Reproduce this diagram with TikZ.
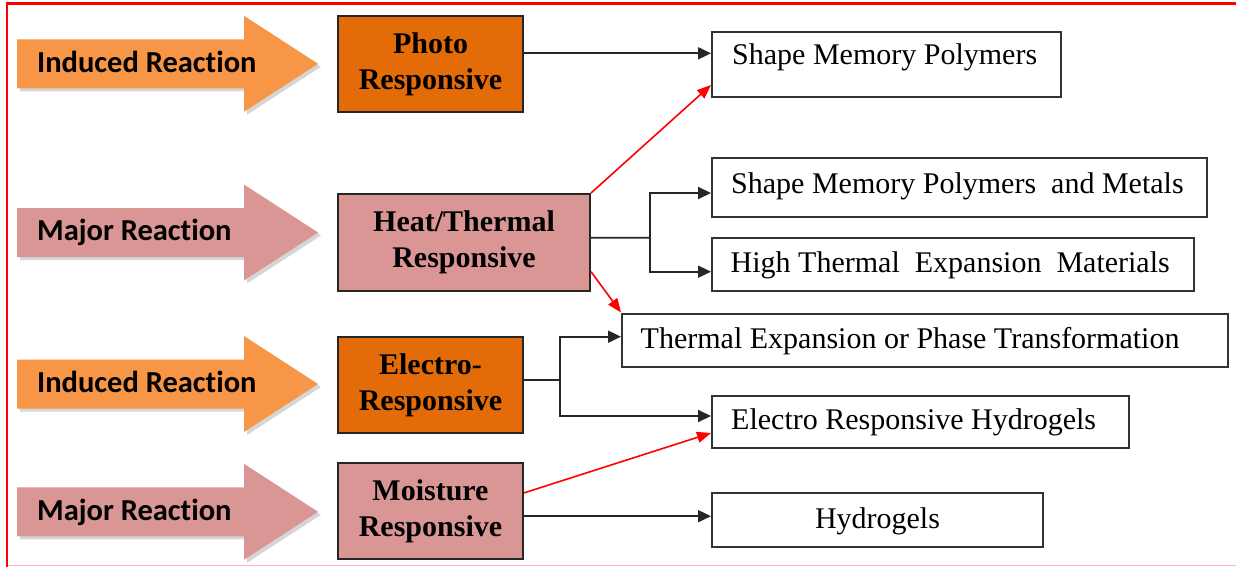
\documentclass[tikz,border=0pt]{standalone}
\usepackage{fontspec}
\setmainfont{Liberation Serif}
\newfontfamily\calfont{Carlito}[Ligatures=CommonOff]
\usetikzlibrary{arrows.meta}
\definecolor{arrOrange}{HTML}{F79646}
\definecolor{boxOrange}{HTML}{E36C09}
\definecolor{boxPink}{HTML}{D99694}
\definecolor{framePink}{HTML}{FFB3B3}
\tikzset{
  lbox/.style={draw=black!85, line width=2pt, inner sep=0pt, minimum width=185pt, minimum height=96pt, align=center, font=\fontsize{30}{36}\selectfont\bfseries},
  rbox/.style={draw=black!80, line width=2pt, inner sep=0pt},
  rtext/.style={anchor=base west, inner sep=0pt, font=\fontsize{30}{36}\selectfont},
  atext/.style={anchor=base west, inner sep=0pt, font=\calfont\fontsize{30.5}{34}\selectfont\bfseries},
  conn/.style={draw=black!85, line width=1.9pt},
  arr/.style={conn, -{Triangle[length=13pt,width=12pt]}},
  redarr/.style={draw=red, line width=1.6pt, -{Triangle[length=14pt,width=11pt]}},
  arrshadow/.style={fill=black!40, opacity=.4},
}
\newcommand\blockarr[2]{%
  \begin{scope}[shift={(0,#1)}]
    \fill[arrshadow] (20,-21.5) -- (247,-21.5) -- (247,-45) -- (321,3) -- (247,51) -- (247,27.5) -- (20,27.5) -- cycle;
    \fill[#2] (17,-24.5) -- (244,-24.5) -- (244,-48) -- (318,0) -- (244,48) -- (244,24.5) -- (17,24.5) -- cycle;
  \end{scope}}
\begin{document}
\begin{tikzpicture}[x=1pt,y=-1pt]
\useasboundingbox (0,0) rectangle (1236,567);
\fill[white] (0,0) rectangle (1236,567);
% frame
\draw[framePink, line width=1.5pt] (7,565.7) -- (1236,565.7);
\draw[red, line width=2.5pt] (7,566.5) -- (7,3.7) -- (1236,3.7);

% block arrows
\blockarr{63.8}{arrOrange}
\blockarr{232.5}{boxPink}
\blockarr{384}{arrOrange}
\blockarr{511.8}{boxPink}
\node[atext] (a1) at (37,72.1) {Induced Reaction};
\node[atext] (a2) at (37,240.8) {Major Reaction};
\node[atext] (a3) at (37,392.3) {Induced Reaction};
\node[atext] (a4) at (37,520.1) {Major Reaction};

% left boxes
\node[lbox, fill=boxOrange] (photo) at (430.5,64) {Photo\\Responsive};
\node[lbox, fill=boxPink, minimum width=252pt, minimum height=96.5pt] (heat) at (464,242.25) {Heat/Thermal\\Responsive};
\node[lbox, fill=boxOrange] (electro) at (430.5,385) {Electro-\\Responsive};
\node[lbox, fill=boxPink] (moist) at (430.5,511.2) {Moisture\\Responsive};

% right boxes
\node[rbox, minimum width=349pt, minimum height=65.8pt] (smp) at (886.5,64.6) {};
\node[rbox, minimum width=495pt, minimum height=58.7pt] (smpm) at (959.5,187.65) {};
\node[rbox, minimum width=482pt, minimum height=52.7pt] (htem) at (953,264.65) {};
\node[rbox, minimum width=606pt, minimum height=53.5pt] (tept) at (925,340.25) {};
\node[rbox, minimum width=417pt, minimum height=52pt] (erh) at (920.5,421.7) {};
\node[rbox, minimum width=331pt, minimum height=53.7pt] (hyd) at (877.5,520.15) {};

\node[rtext] (t1) at (732,65) {Shape Memory Polymers};
\node[rtext] (t2) at (731,193) {Shape Memory Polymers\ \ and Metals};
\node[rtext] (t3) at (730.5,272.5) {High Thermal\ \ Expansion\ \ Materials};
\node[rtext] (t4) at (640.5,348) {Thermal Expansion or Phase Transformation};
\node[rtext] (t5) at (731,429.3) {Electro Responsive Hydrogels};
\node[rtext, anchor=base] (t6) at (877.5,528.3) {Hydrogels};

% black connectors
\draw[arr] ([yshift=10.7pt]photo.east) -- ([yshift=10.7pt]photo.east -| smp.west);

\coordinate (hj) at (650,237.7);
\draw[conn] ([yshift=4.5pt]heat.east) -- (hj);
\draw[arr] (hj) |- ([yshift=-5.35pt]smpm.west);
\draw[arr] (hj) |- ([yshift=-7.05pt]htem.west);

\coordinate (ej) at (560,380);
\draw[conn] ([yshift=5pt]electro.east) -- (ej);
\draw[arr] (ej) |- ([yshift=3.55pt]tept.west);
\draw[arr] (ej) |- ([yshift=5.7pt]erh.west);

\draw[arr] ([yshift=-5pt]moist.east) -- ([yshift=-5pt]moist.east -| hyd.west);

% red connectors
\draw[redarr] (heat.north east) -- ([yshift=-20.4pt]smp.west);
\draw[redarr] ([yshift=-29.45pt]heat.east) -- (tept.north west);
\draw[redarr] ([yshift=18.3pt]moist.east) -- ([yshift=-11.3pt]erh.west);
\end{tikzpicture}
\end{document}
